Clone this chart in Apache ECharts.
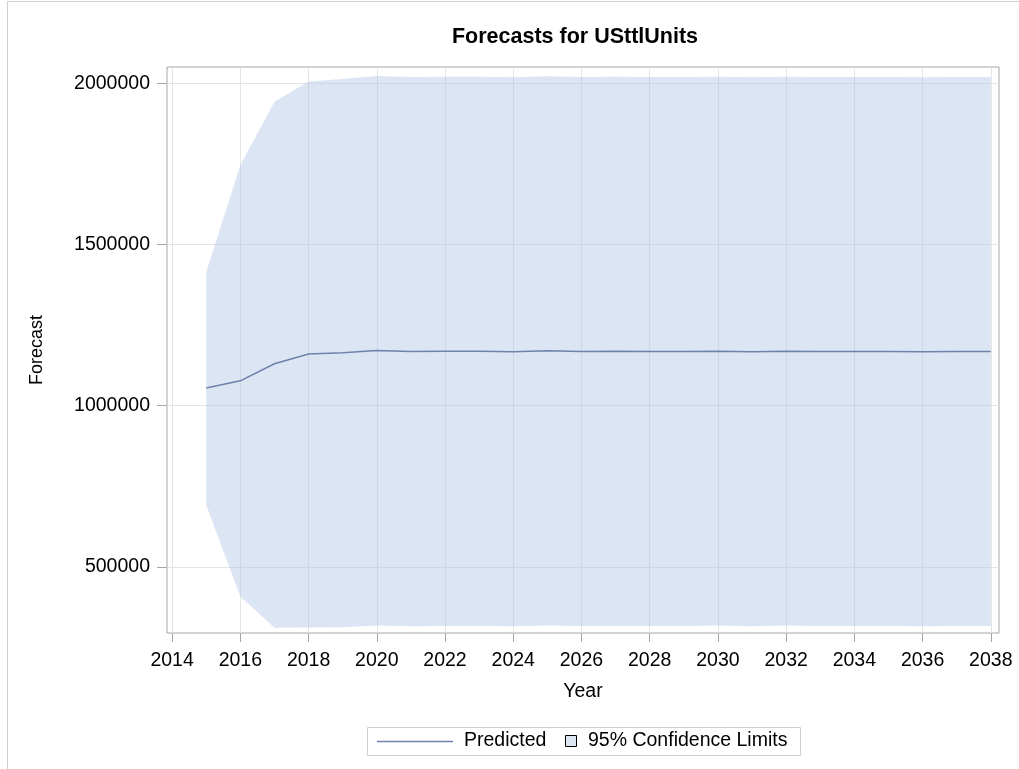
<!DOCTYPE html>
<html>
<head>
<meta charset="utf-8">
<script src="https://cdn.jsdelivr.net/npm/echarts@6/dist/echarts.min.js"></script>
<style>
html, body { margin: 0; padding: 0; background: #fff; }
#chart { width: 1019px; height: 769px; }
</style>
</head>
<body>
<div id="chart"></div>
<script>
// forecast horizon
var years = [2015, 2016, 2017, 2018, 2019, 2020, 2021, 2022, 2023, 2024, 2025, 2026,
             2027, 2028, 2029, 2030, 2031, 2032, 2033, 2034, 2035, 2036, 2037, 2038];

var predicted = [1055000, 1077000, 1130000, 1160000, 1164000, 1171000, 1168000, 1169000,
                 1169000, 1167000, 1170000, 1168000, 1169000, 1168000, 1168000, 1169000,
                 1167000, 1169000, 1168000, 1168000, 1168000, 1167000, 1168000, 1168000];

var upper95 = [1414000, 1745000, 1942000, 2005000, 2013000, 2022000, 2019000, 2020000,
               2020000, 2018000, 2021000, 2019000, 2020000, 2019000, 2019000, 2020000,
               2018000, 2020000, 2019000, 2019000, 2019000, 2018000, 2019000, 2019000];

var lower95 = [692000, 408000, 311000, 312000, 313000, 318000, 316000, 317000,
               317000, 316000, 318000, 317000, 317000, 317000, 317000, 318000,
               316000, 318000, 317000, 317000, 317000, 316000, 317000, 317000];

var xTicks = [2014, 2016, 2018, 2020, 2022, 2024, 2026, 2028, 2030, 2032, 2034, 2036, 2038];
var yTicks = [500000, 1000000, 1500000, 2000000];

var chart = echarts.init(document.getElementById('chart'));

var font = 'Arial, "Liberation Sans", sans-serif';
var bandColor = 'rgba(176,198,228,0.45)';
var lineColor = '#6f82ad';

var bandData = years.map(function (y, i) { return [y, lower95[i], upper95[i]]; });
var predData = years.map(function (y, i) { return [y, predicted[i]]; });

// one polygon for the whole confidence band, built from the axis scales
function renderBand(params, api) {
  if (params.dataIndex !== 0) return null;
  var pts = [];
  for (var i = 0; i < years.length; i++) {
    pts.push(api.coord([years[i], upper95[i]]));
  }
  for (var j = years.length - 1; j >= 0; j--) {
    pts.push(api.coord([years[j], lower95[j]]));
  }
  return {
    type: 'polygon',
    shape: { points: pts },
    style: { fill: bandColor }
  };
}

var plain = function (v) { return String(v); };

var option = {
  animation: false,
  title: {
    text: 'Forecasts for USttlUnits',
    left: 570,
    top: 21,
    textAlign: 'center',
    textStyle: { fontFamily: font, fontSize: 21.5, fontWeight: 'bold', color: '#000' }
  },
  grid: {
    left: 167, top: 67, right: 20, bottom: 136,
    show: true, borderColor: '#a6a6a6', borderWidth: 1,
    containLabel: false
  },
  xAxis: {
    type: 'value',
    min: 2013.85,
    max: 2038.24,
    name: 'Year',
    nameLocation: 'middle',
    nameGap: 49,
    nameTextStyle: { fontFamily: font, fontSize: 19.5, color: '#000' },
    axisLine: { show: false },
    axisTick: { show: true, length: 9, customValues: xTicks, lineStyle: { color: '#a6a6a6' } },
    axisLabel: { customValues: xTicks, formatter: plain, margin: 18, fontFamily: font, fontSize: 19.5, color: '#000' },
    splitLine: { show: true, lineStyle: { color: '#e4e4e4' } }
  },
  yAxis: {
    type: 'value',
    min: 295000,
    max: 2050000,
    name: 'Forecast',
    nameLocation: 'middle',
    nameRotate: 90,
    nameGap: 121,
    nameTextStyle: { fontFamily: font, fontSize: 18, color: '#000' },
    axisLine: { show: false },
    axisTick: { show: true, length: 10, customValues: yTicks, lineStyle: { color: '#a6a6a6' } },
    axisLabel: { customValues: yTicks, formatter: plain, margin: 17, fontFamily: font, fontSize: 19.5, color: '#000' },
    splitLine: { show: true, lineStyle: { color: '#e4e4e4' } }
  },
  series: [
    {
      name: '95% Confidence Limits',
      type: 'custom',
      renderItem: renderBand,
      data: bandData,
      encode: { x: 0, y: [1, 2] },
      clip: true,
      silent: true,
      z: 3
    },
    {
      name: 'Predicted',
      type: 'line',
      data: predData,
      symbol: 'none',
      lineStyle: { color: lineColor, width: 1.5 },
      z: 4
    }
  ],
  graphic: [
    // outer frame (top + left)
    { type: 'line', shape: { x1: 7.5, y1: 1.5, x2: 1019, y2: 1.5 }, style: { stroke: '#cfcfcf', lineWidth: 1 } },
    { type: 'line', shape: { x1: 7.5, y1: 1.5, x2: 7.5, y2: 769 }, style: { stroke: '#cfcfcf', lineWidth: 1 } },
    // legend
    { type: 'rect', shape: { x: 367.5, y: 727.5, width: 433, height: 28 }, style: { fill: '#fff', stroke: '#d0d0d0', lineWidth: 1 } },
    { type: 'line', shape: { x1: 377, y1: 741.5, x2: 453, y2: 741.5 }, style: { stroke: lineColor, lineWidth: 1.5 } },
    { type: 'text', left: 464, top: 731, style: { text: 'Predicted', font: '19.5px ' + font, fill: '#000' } },
    { type: 'rect', shape: { x: 565.5, y: 735.5, width: 11, height: 11 }, style: { fill: '#dce5f1', stroke: '#000', lineWidth: 1 } },
    { type: 'text', left: 588, top: 731, style: { text: '95% Confidence Limits', font: '19.5px ' + font, fill: '#000' } }
  ]
};

option && chart.setOption(option);
</script>
</body>
</html>
